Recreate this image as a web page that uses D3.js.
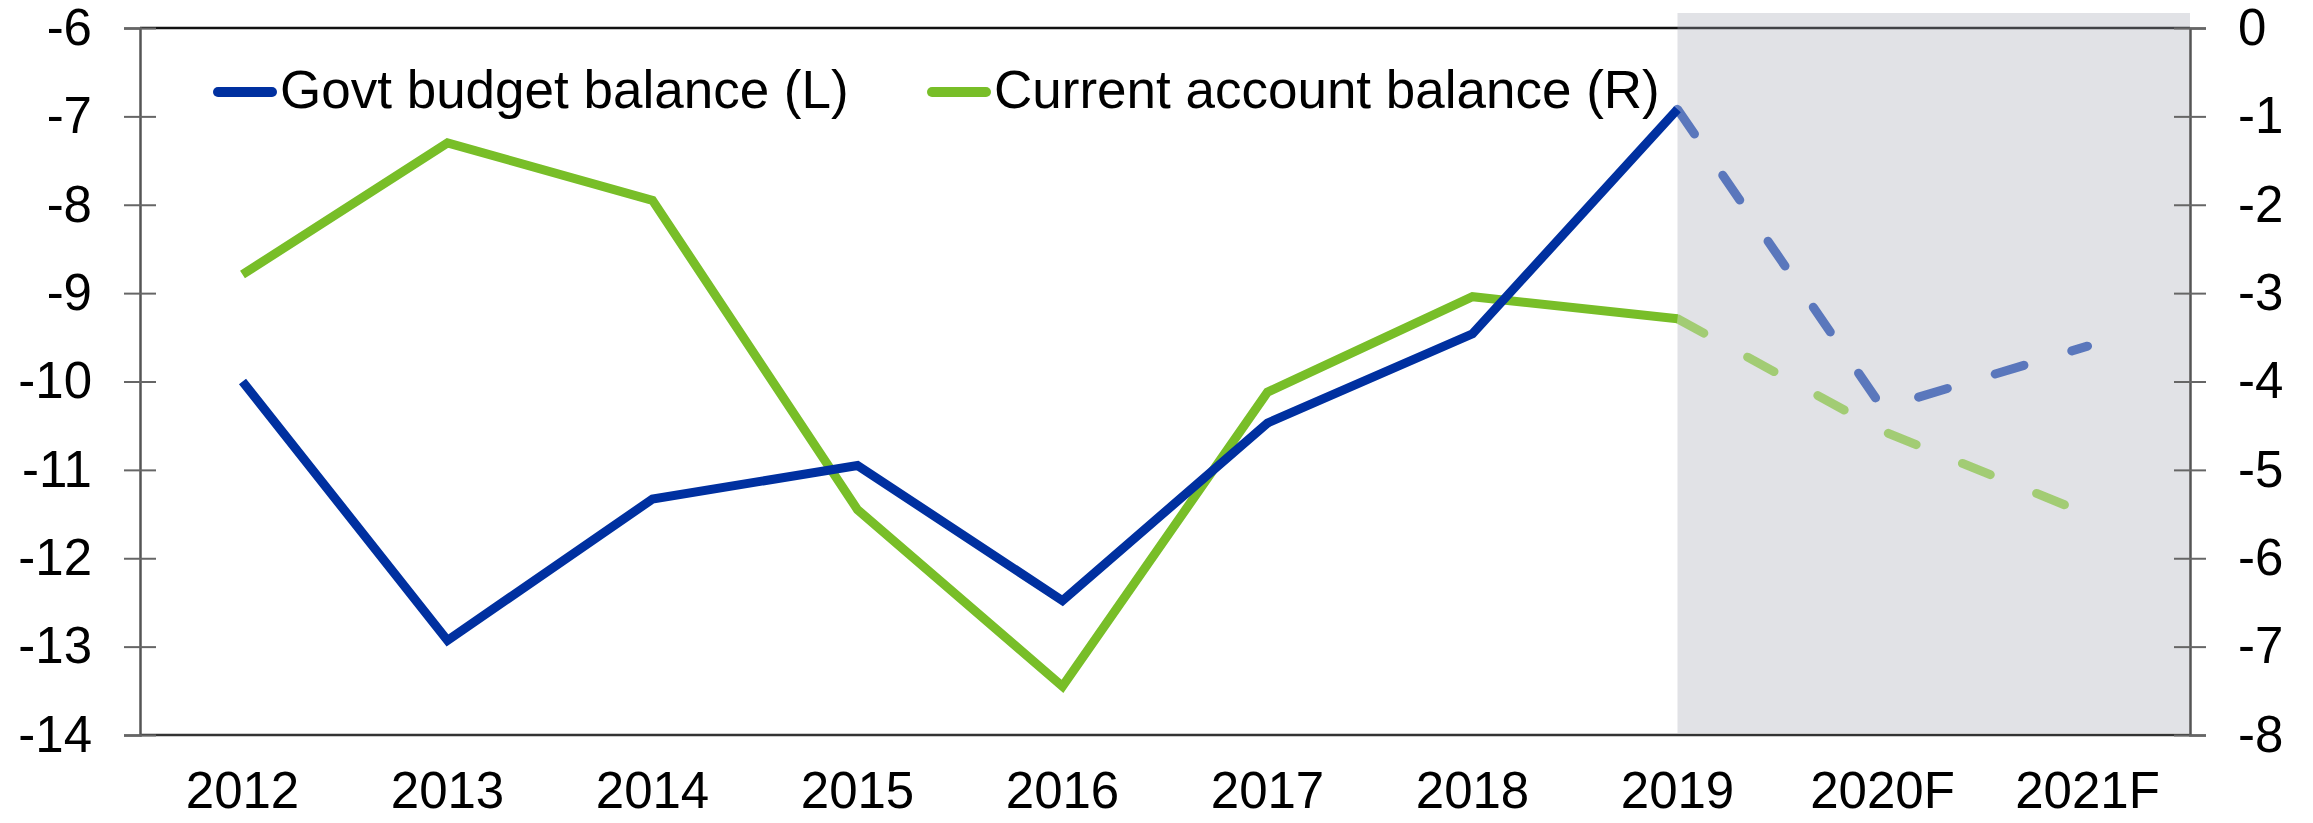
<!DOCTYPE html>
<html>
<head>
<meta charset="utf-8">
<script src="https://cdn.jsdelivr.net/npm/d3@7"></script>
<style>
  body { margin: 0; background: #fff; }
  text { font-family: Arial, "Liberation Sans", sans-serif; fill: #000; }
</style>
</head>
<body>
<div id="chart"></div>
<script>
const categories = ['2012', '2013', '2014', '2015', '2016', '2017', '2018', '2019', '2020F', '2021F'];
const budgetBalance = [-10.0, -12.93, -11.33, -10.95, -12.48, -10.47, -9.46, -6.92, -10.3, -9.6];
const currentAccount = [-2.79, -1.3, -1.95, -5.45, -7.45, -4.12, -3.04, -3.29, -4.56, -5.5];
const leftTicks = [-6, -7, -8, -9, -10, -11, -12, -13, -14];
const rightTicks = [0, -1, -2, -3, -4, -5, -6, -7, -8];
const forecastStart = '2019';

const width = 2313;
const height = 823;
const margin = {top: 28, right: 123, bottom: 88, left: 140};
const blue = '#0030a0';
const green = '#78be28';
const fontSize = 51;

const svg = d3.select('#chart').append('svg')
    .attr('width', width)
    .attr('height', height);

const x = d3.scaleBand()
    .domain(categories)
    .range([margin.left, width - margin.right]);
const cx = d => x(d) + x.bandwidth() / 2;

const yL = d3.scaleLinear()
    .domain([-14, -6])
    .range([height - margin.bottom, margin.top]);
const yR = d3.scaleLinear()
    .domain([-8, 0])
    .range([height - margin.bottom, margin.top]);

// frame lines top and bottom
svg.append('line')
    .attr('x1', margin.left).attr('x2', width - margin.right)
    .attr('y1', yL(-6)).attr('y2', yL(-6))
    .attr('stroke', '#111').attr('stroke-width', 2.5);
svg.append('line')
    .attr('x1', margin.left).attr('x2', width - margin.right)
    .attr('y1', yL(-14)).attr('y2', yL(-14))
    .attr('stroke', '#333').attr('stroke-width', 2.5);

// forecast shading
svg.append('rect')
    .attr('x', cx(forecastStart))
    .attr('y', margin.top - 15)
    .attr('width', width - margin.right - cx(forecastStart))
    .attr('height', yL(-14) - 2 - (margin.top - 15))
    .attr('fill', '#a3a6b3')
    .attr('fill-opacity', 0.33);

const fmt = d => String(d);

// left axis
const gL = svg.append('g')
    .attr('transform', `translate(${margin.left},0)`)
    .call(d3.axisLeft(yL).tickValues(leftTicks).tickSize(16).tickPadding(32).tickFormat(fmt));
gL.selectAll('.tick').append('line').attr('x2', 16);

// right axis
const gR = svg.append('g')
    .attr('transform', `translate(${width - margin.right},0)`)
    .call(d3.axisRight(yR).tickValues(rightTicks).tickSize(16).tickPadding(32).tickFormat(fmt));
gR.selectAll('.tick').append('line').attr('x2', -16);

[gL, gR].forEach(g => {
    g.select('.domain').attr('stroke', '#555').attr('stroke-width', 2.5);
    g.selectAll('.tick line').attr('stroke', '#666').attr('stroke-width', 2);
    g.selectAll('.tick text').attr('font-size', fontSize).attr('fill', '#000')
        .style('font-family', 'Arial, "Liberation Sans", sans-serif');
});

// bottom category labels
svg.append('g')
    .attr('transform', `translate(0,${height - margin.bottom})`)
    .call(d3.axisBottom(x).tickSize(0).tickPadding(37))
    .call(g => g.select('.domain').remove())
    .selectAll('text')
    .attr('font-size', fontSize)
    .attr('fill', '#000')
    .style('font-family', 'Arial, "Liberation Sans", sans-serif');

// series lines
const fi = categories.indexOf(forecastStart);
function drawSeries(values, yScale, color) {
    const pts = categories.map((c, i) => ({c, v: values[i]}));
    const line = d3.line().x(d => cx(d.c)).y(d => yScale(d.v));
    svg.append('path')
        .attr('d', line(pts.slice(0, fi + 1)))
        .attr('fill', 'none')
        .attr('stroke', color)
        .attr('stroke-width', 9)
        .attr('stroke-linejoin', 'miter');
    svg.append('path')
        .attr('d', line(pts.slice(fi)))
        .attr('fill', 'none')
        .attr('stroke', color)
        .attr('stroke-opacity', 0.6)
        .attr('stroke-width', 9)
        .attr('stroke-linecap', 'round')
        .attr('stroke-dasharray', '30 50');
}
drawSeries(currentAccount, yR, green);
drawSeries(budgetBalance, yL, blue);

// legend
const legendItems = [
    {label: 'Govt budget balance (L)', color: blue, x: 218},
    {label: 'Current account balance (R)', color: green, x: 932}
];
const lg = svg.append('g');
legendItems.forEach(item => {
    lg.append('line')
        .attr('x1', item.x).attr('x2', item.x + 54)
        .attr('y1', 92).attr('y2', 92)
        .attr('stroke', item.color)
        .attr('stroke-width', 10)
        .attr('stroke-linecap', 'round');
    lg.append('text')
        .attr('x', item.x + 62)
        .attr('y', 108)
        .attr('font-size', 53)
        .text(item.label);
});
</script>
</body>
</html>
